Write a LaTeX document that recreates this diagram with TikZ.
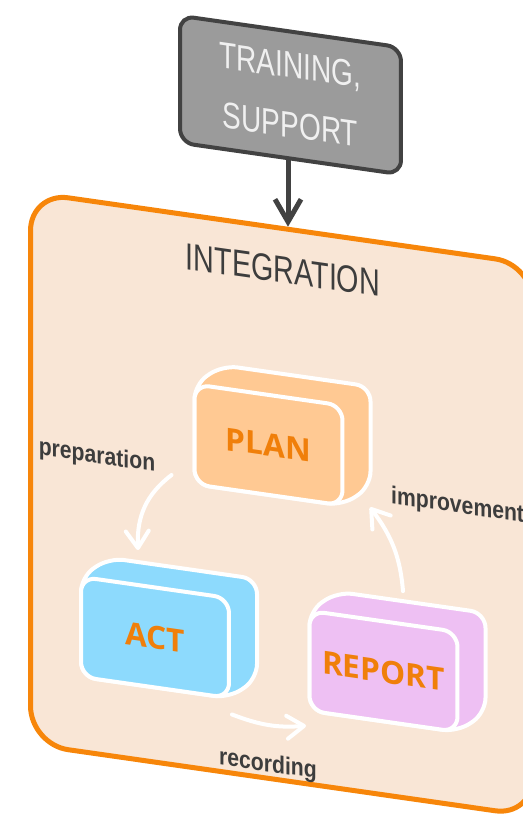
\documentclass[tikz,border=0pt]{standalone}
\usepackage{fontspec}
\setmainfont{Liberation Sans}
\newfontfamily\narrowfont[FakeStretch=0.76]{Liberation Sans}
\newfontfamily\labelfont[FakeStretch=0.86]{Liberation Sans}
\newfontfamily\blockfont{Open Sans}
\usepackage{tikz}
\usetikzlibrary{arrows.meta}
\usetikzlibrary{calc}
\definecolor{integfill}{HTML}{F9E6D6}
\definecolor{integline}{HTML}{F7860A}
\definecolor{trainfill}{HTML}{9B9B9B}
\definecolor{darkline}{HTML}{424242}
\definecolor{planfill}{HTML}{FFC993}
\definecolor{actfill}{HTML}{8DDAFD}
\definecolor{reportfill}{HTML}{EEC0F3}
\definecolor{blocktext}{HTML}{F07F0A}
\definecolor{labeltext}{HTML}{3D3D3D}
\tikzstyle{integbox} = [rectangle, draw=integline, fill=integfill, line width=0.1cm,
                        rounded corners=0.76cm, minimum width=10.05cm, minimum height=11.04cm]
\tikzstyle{trainbox} = [rectangle, draw=darkline, fill=trainfill, line width=0.08cm,
    rounded corners=0.28cm, minimum width=4.42cm, minimum height=2.54cm,
    align=center, text=white!94!black, font=\narrowfont\fontsize{21}{34}\selectfont]
\tikzstyle{blockface} = [rectangle, draw=white, line width=0.08cm, rounded corners=0.3cm,
    minimum width=2.96cm, minimum height=2cm, text=blocktext,
    font=\blockfont\bfseries\fontsize{18}{20}\selectfont]
\tikzstyle{blockdepth} = [draw=white, line width=0.08cm, rounded corners=0.3cm, line join=round]
\tikzstyle{title} = [text=labeltext, font=\narrowfont\fontsize{21.5}{24}\selectfont]
\tikzstyle{phase} = [text=labeltext, font=\labelfont\bfseries\fontsize{14}{16}\selectfont]
\tikzstyle{feed} = [draw=darkline, line width=0.1cm, -{Straight Barb[length=0.45cm,width=0.52cm]}]
\tikzstyle{flow} = [draw=white, line width=0.08cm, line cap=round,
    -{Straight Barb[length=0.34cm,width=0.46cm,round]}]
% block with its depth drawn behind the front face
\newcommand{\cubeblock}[4]{%
  \fill[#3, blockdepth] ($#2+(-74,-50)$) -- ++(28,-23) -- ($#2+(102,-73)$)
    -- ($#2+(102,27)$) -- ($#2+(74,50)$) -- ($#2+(-74,50)$) -- cycle;
  \node[blockface, fill=#3] (#1) at #2 {#4};}

\begin{document}
\begin{tikzpicture}[x=0.02cm, y=-0.02cm]
  \useasboundingbox (0,0) rectangle (523,818);
  \clip (0,0) rectangle (523,818);
  \begin{scope}[yslant=-0.143, transform shape]
    % Place nodes
    \node[integbox] (integ) at (281.75,464) {};
    \node[title] (title) at (283,229.5) {INTEGRATION};
    \node[trainbox] (train) at (290.5,53.5) {TRAINING,\\SUPPORT};

    \cubeblock{plan}{(268.5,406.5)}{planfill}{PLAN}
    \cubeblock{act}{(155,615.3)}{actfill}{ACT}
    \cubeblock{report}{(383.5,616.5)}{reportfill}{REPORT}

    \node[phase] (preptext) at (97,443) {preparation};
    \node[phase, anchor=west] (improvetext) at (385,441) {improvement};
    \node[phase] (recordtext) at (268,727) {recording};

    % Draw edges
    \coordinate (feedtop) at (288,0);
    \path[feed] (feedtop |- train.south) -- (feedtop |- integ.north);
    \path[flow] ([shift={(-21,-8)}]plan.south west) to[bend right=25]
      ([shift={(-17,-33)}]act.north);
    \path[flow] ([shift={(19.5,-31)}]report.north) to[bend right=18]
      ([shift={(25.5,-4)}]plan.south east);
    \path[flow] ([shift={(1,14)}]act.south east) to[bend right=13]
      ([shift={(-1.5,13.5)}]report.south west);
  \end{scope}
\end{tikzpicture}
\end{document}
